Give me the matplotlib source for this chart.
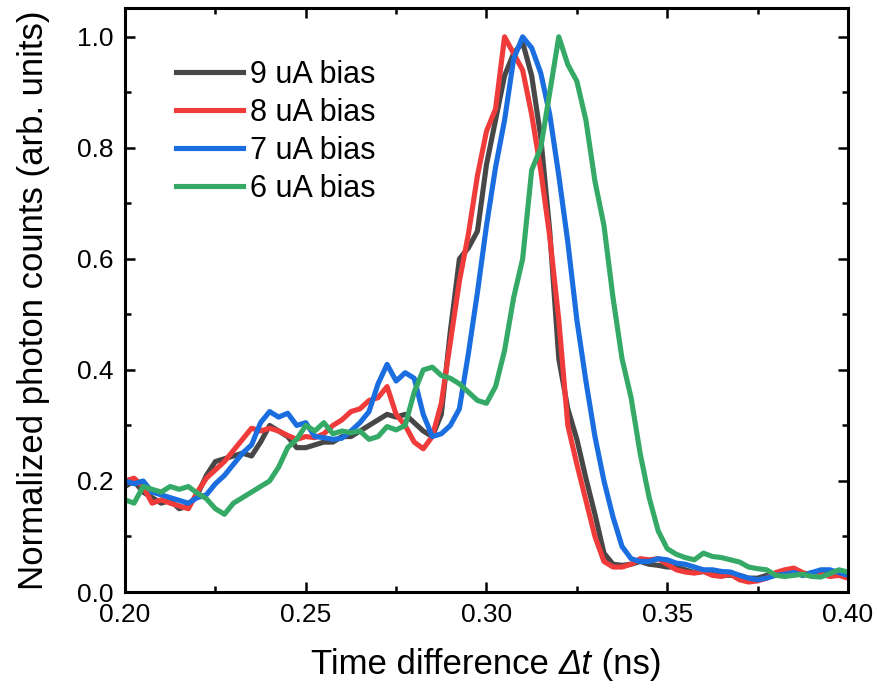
import numpy as np
import matplotlib
matplotlib.use("Agg")
import matplotlib.pyplot as plt
from matplotlib.ticker import MultipleLocator, FormatStrFormatter
from matplotlib.offsetbox import TextArea, HPacker, AnchoredOffsetbox

plt.rcParams['font.family'] = ['Liberation Sans', 'DejaVu Sans']

# time axis (ns), 0.0025 ns steps
t = np.round(np.arange(0.2, 0.40001, 0.0025), 4)

bias_9uA = [0.19, 0.20, 0.18, 0.17, 0.16, 0.165, 0.15, 0.155, 0.175, 0.21,
            0.235, 0.24, 0.245, 0.25, 0.245, 0.27, 0.30, 0.29, 0.28, 0.26,
            0.26, 0.265, 0.27, 0.27, 0.28, 0.28, 0.29, 0.30, 0.31, 0.32,
            0.315, 0.32, 0.305, 0.29, 0.28, 0.32, 0.47, 0.60, 0.62, 0.65,
            0.77, 0.85, 0.93, 0.97, 0.99, 0.93, 0.82, 0.65, 0.42, 0.33,
            0.275, 0.205, 0.14, 0.07, 0.05, 0.048, 0.05, 0.055, 0.05, 0.048,
            0.045, 0.045, 0.04, 0.035, 0.037, 0.034, 0.03, 0.03, 0.03, 0.025,
            0.025, 0.03, 0.03, 0.035, 0.035, 0.03, 0.035, 0.03, 0.035, 0.035,
            0.035]

bias_8uA = [0.20, 0.205, 0.19, 0.16, 0.166, 0.16, 0.155, 0.15, 0.18, 0.205,
            0.22, 0.235, 0.255, 0.275, 0.295, 0.29, 0.295, 0.29, 0.282, 0.275,
            0.28, 0.278, 0.285, 0.30, 0.31, 0.325, 0.33, 0.345, 0.35, 0.37,
            0.32, 0.30, 0.27, 0.258, 0.28, 0.34, 0.45, 0.56, 0.645, 0.75,
            0.83, 0.87, 1.00, 0.97, 0.94, 0.86, 0.76, 0.64, 0.49, 0.30,
            0.23, 0.165, 0.10, 0.055, 0.045, 0.045, 0.05, 0.06, 0.058, 0.06,
            0.05, 0.04, 0.036, 0.034, 0.037, 0.03, 0.028, 0.032, 0.022, 0.018,
            0.02, 0.025, 0.035, 0.04, 0.043, 0.035, 0.03, 0.032, 0.028, 0.03,
            0.025]

bias_7uA = [0.20, 0.195, 0.20, 0.18, 0.175, 0.17, 0.165, 0.16, 0.17, 0.175,
            0.195, 0.21, 0.23, 0.25, 0.265, 0.305, 0.325, 0.315, 0.322, 0.30,
            0.305, 0.28, 0.278, 0.275, 0.277, 0.29, 0.305, 0.325, 0.375, 0.41,
            0.38, 0.395, 0.385, 0.32, 0.28, 0.285, 0.30, 0.33, 0.43, 0.54,
            0.66, 0.765, 0.85, 0.96, 1.00, 0.98, 0.935, 0.86, 0.75, 0.63,
            0.49, 0.38, 0.28, 0.20, 0.135, 0.082, 0.06, 0.055, 0.055, 0.06,
            0.058, 0.052, 0.05, 0.045, 0.04, 0.04, 0.037, 0.036, 0.03, 0.025,
            0.022, 0.025, 0.03, 0.032, 0.035, 0.03, 0.035, 0.04, 0.04, 0.035,
            0.03]

bias_6uA = [0.166, 0.16, 0.19, 0.185, 0.18, 0.19, 0.185, 0.19, 0.178, 0.168,
            0.15, 0.14, 0.16, 0.17, 0.18, 0.19, 0.20, 0.225, 0.26, 0.275,
            0.30, 0.29, 0.305, 0.285, 0.29, 0.287, 0.29, 0.275, 0.28, 0.298,
            0.292, 0.30, 0.36, 0.40, 0.405, 0.39, 0.385, 0.375, 0.36, 0.345,
            0.34, 0.37, 0.435, 0.53, 0.60, 0.76, 0.80, 0.90, 1.00, 0.95,
            0.92, 0.85, 0.74, 0.66, 0.53, 0.42, 0.35, 0.25, 0.17, 0.11,
            0.078, 0.068, 0.062, 0.058, 0.07, 0.064, 0.062, 0.058, 0.054, 0.045,
            0.042, 0.04, 0.03, 0.028, 0.03, 0.032, 0.028, 0.027, 0.033, 0.04,
            0.036]

labels = ["9 uA bias", "8 uA bias", "7 uA bias", "6 uA bias"]
colors = ["#474747", "#f03b3b", "#1a6ee0", "#35aa66"]

fig = plt.figure(figsize=(8.78, 6.92), dpi=100)
ax = fig.add_axes([0.1424, 0.1445, 0.8234, 0.844])

for y, lab, c in zip([bias_9uA, bias_8uA, bias_7uA, bias_6uA], labels, colors):
    ax.plot(t, y, color=c, lw=3.7, label=lab)

ax.set_xlim(0.2, 0.4)
ax.set_ylim(0, 1.052)
ax.xaxis.set_major_locator(MultipleLocator(0.05))
ax.xaxis.set_minor_locator(MultipleLocator(0.025))
ax.yaxis.set_major_locator(MultipleLocator(0.2))
ax.yaxis.set_minor_locator(MultipleLocator(0.1))
ax.xaxis.set_major_formatter(FormatStrFormatter('%.2f'))
ax.yaxis.set_major_formatter(FormatStrFormatter('%.1f'))

for s in ax.spines.values():
    s.set_linewidth(2.2)
ax.tick_params(which='both', direction='in', top=True, right=True, width=1.8)
ax.tick_params(which='major', length=7, labelsize=19, pad=8)
ax.tick_params(which='minor', length=4)

# x label with italic "Δt" in the middle
parts = [TextArea("Time difference ", textprops=dict(fontsize=25)),
         TextArea("Δt", textprops=dict(fontsize=25, style='italic')),
         TextArea(" (ns)", textprops=dict(fontsize=25))]
xlab = AnchoredOffsetbox(loc='upper center', child=HPacker(children=parts, pad=0, sep=0, align='baseline'),
                         frameon=False, pad=0, borderpad=0,
                         bbox_to_anchor=(0.5, -0.096), bbox_transform=ax.transAxes)
ax.add_artist(xlab)

ax.set_ylabel('Normalized photon counts (arb. units)', fontsize=25, labelpad=20)

ax.legend(loc='upper left', bbox_to_anchor=(0.07, 0.911), frameon=False,
          fontsize=22, handlelength=2.2, handletextpad=0.25, labelspacing=0.26,
          borderpad=0, borderaxespad=0)

fig.savefig("out.png", dpi=100)
